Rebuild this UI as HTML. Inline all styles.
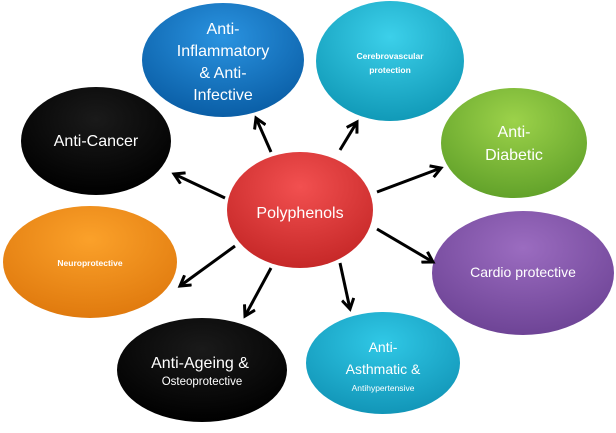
<!DOCTYPE html>
<html><head><meta charset="utf-8"><style>
html,body{margin:0;padding:0;background:#fff}
svg text{font-family:"Liberation Sans",sans-serif;fill:#fff;text-anchor:middle}
</style></head><body>
<svg width="616" height="428" viewBox="0 0 616 428" xmlns="http://www.w3.org/2000/svg">
<defs>
<radialGradient id="gb" cx="50%" cy="30%" r="70%"><stop offset="0" stop-color="#2a93e0"/><stop offset="1" stop-color="#0a5ea6"/></radialGradient>
<radialGradient id="gc" cx="50%" cy="30%" r="70%"><stop offset="0" stop-color="#3cd0ea"/><stop offset="1" stop-color="#119ab8"/></radialGradient>
<radialGradient id="gk" cx="50%" cy="30%" r="70%"><stop offset="0" stop-color="#1a1a1a"/><stop offset="1" stop-color="#000"/></radialGradient>
<radialGradient id="gg" cx="50%" cy="30%" r="70%"><stop offset="0" stop-color="#9cd24a"/><stop offset="1" stop-color="#62a22a"/></radialGradient>
<radialGradient id="gr" cx="50%" cy="30%" r="70%"><stop offset="0" stop-color="#f25050"/><stop offset="1" stop-color="#c62828"/></radialGradient>
<radialGradient id="go" cx="50%" cy="30%" r="70%"><stop offset="0" stop-color="#fba12a"/><stop offset="1" stop-color="#e07a0e"/></radialGradient>
<radialGradient id="gp" cx="50%" cy="30%" r="70%"><stop offset="0" stop-color="#9b6cc0"/><stop offset="1" stop-color="#6e4496"/></radialGradient>
<radialGradient id="ga" cx="50%" cy="30%" r="70%"><stop offset="0" stop-color="#30c8e6"/><stop offset="1" stop-color="#1296b8"/></radialGradient>
<marker id="ar" markerWidth="14" markerHeight="14" refX="11" refY="7" orient="auto" markerUnits="userSpaceOnUse"><path d="M1,1 L11,7 L1,13" fill="none" stroke="#000" stroke-width="3"/></marker>
</defs>
<ellipse cx="223" cy="60" rx="81" ry="57" fill="url(#gb)"/>
<ellipse cx="390" cy="61" rx="74" ry="60" fill="url(#gc)"/>
<ellipse cx="96" cy="141" rx="75" ry="54" fill="url(#gk)"/>
<ellipse cx="514" cy="143" rx="73" ry="55" fill="url(#gg)"/>
<ellipse cx="90" cy="262" rx="87" ry="56" fill="url(#go)"/>
<ellipse cx="523" cy="273" rx="91" ry="62" fill="url(#gp)"/>
<ellipse cx="202" cy="370" rx="85" ry="52" fill="url(#gk)"/>
<ellipse cx="383" cy="363" rx="77" ry="51" fill="url(#ga)"/>
<ellipse cx="300" cy="210" rx="73" ry="58" fill="url(#gr)"/>
<g stroke="#000" stroke-width="3" marker-end="url(#ar)">
<line x1="271" y1="152" x2="256" y2="118"/>
<line x1="340" y1="150" x2="357" y2="122"/>
<line x1="225" y1="198" x2="174" y2="174"/>
<line x1="377" y1="192" x2="441" y2="168"/>
<line x1="235" y1="246" x2="180" y2="286"/>
<line x1="271" y1="268" x2="245" y2="316"/>
<line x1="340" y1="263" x2="350" y2="309"/>
<line x1="377" y1="229" x2="433" y2="262"/>
</g>
<g font-size="16">
<text x="223" y="34">Anti-</text>
<text x="223" y="56">Inflammatory</text>
<text x="223" y="78">&amp; Anti-</text>
<text x="223" y="100">Infective</text>
<text x="96" y="146">Anti-Cancer</text>
<text x="514" y="137">Anti-</text>
<text x="514" y="160">Diabetic</text>
<text x="300" y="218">Polyphenols</text>
<text x="200" y="368">Anti-Ageing &amp;</text>
<text x="383" y="352" font-size="14">Anti-</text>
<text x="383" y="374" font-size="14">Asthmatic &amp;</text>
</g>
<text x="390" y="59" font-size="8.5" font-weight="bold">Cerebrovascular</text>
<text x="390" y="73" font-size="8.5" font-weight="bold">protection</text>
<text x="90" y="266" font-size="8.5" font-weight="bold">Neuroprotective</text>
<text x="523" y="277" font-size="14">Cardio protective</text>
<text x="202" y="385" font-size="11.5">Osteoprotective</text>
<text x="383" y="391" font-size="8.5">Antihypertensive</text>
</svg>
</body></html>
